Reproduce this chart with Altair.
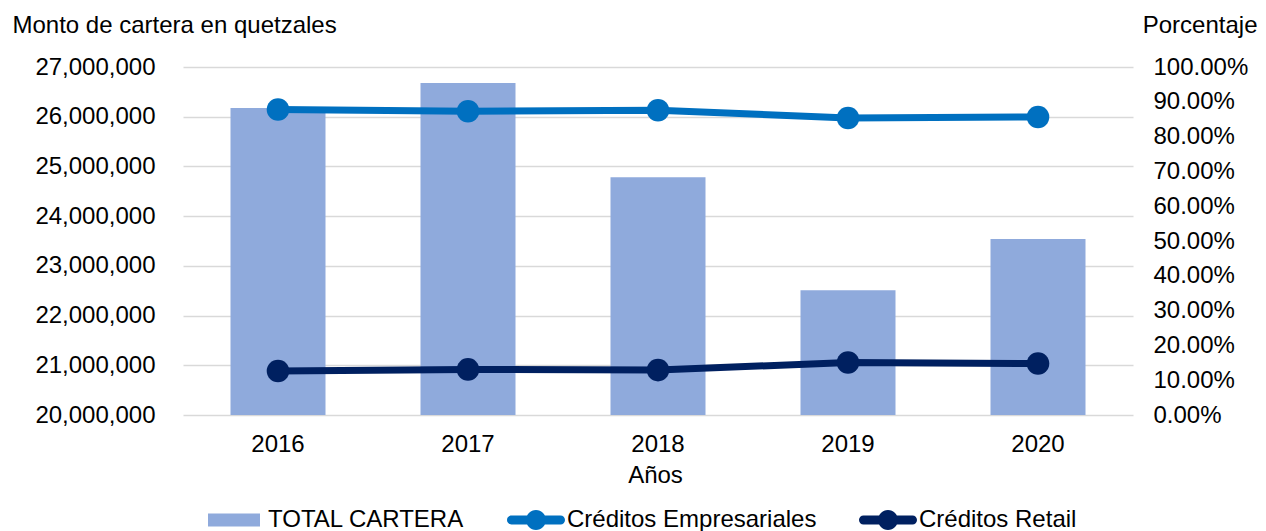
import altair as alt
import pandas as pd

# ---- data ----
years = ["2016", "2017", "2018", "2019", "2020"]
total_cartera = [26175000, 26680000, 24780000, 22510000, 23540000]
creditos_empresariales = [0.8777, 0.8728, 0.8757, 0.8536, 0.8565]
creditos_retail = [0.1263, 0.1310, 0.1290, 0.1510, 0.1480]

series = ["TOTAL CARTERA", "Créditos Empresariales", "Créditos Retail"]
colors = ["#8FAADC", "#0070C0", "#002060"]

left_ticks = [20000000, 21000000, 22000000, 23000000, 24000000, 25000000, 26000000, 27000000]
right_ticks = [0.0, 0.1, 0.2, 0.3, 0.4, 0.5, 0.6, 0.7, 0.8, 0.9, 1.0]

FONT = "Liberation Sans"

bars_df = pd.DataFrame({"year": years, "value": total_cartera, "serie": series[0]})
lines_df = pd.DataFrame({
    "year": years + years,
    "pct": creditos_empresariales + creditos_retail,
    "serie": [series[1]] * len(years) + [series[2]] * len(years),
})
legend_df = pd.DataFrame({"serie": series})

# legend symbol shapes (unit = sqrt(size)/2)
rect_path = "M-1,-0.65H4.2V0.65H-1Z"
line_circle_path = ("M-0.55,-0.45H4.35A0.45,0.45 0 0 1 4.35,0.45H-0.55A0.45,0.45 0 0 1 -0.55,-0.45Z"
                    "M0.9,0A1,1 0 1 1 2.9,0A1,1 0 1 1 0.9,0Z")
shapes = [rect_path, line_circle_path, line_circle_path]

color_scale = alt.Scale(domain=series, range=colors)
shape_scale = alt.Scale(domain=series, range=shapes)

lg = dict(orient="none", legendX=23, legendY=441, direction="horizontal", title=None,
          symbolSize=400, symbolStrokeWidth=0, symbolOpacity=1, labelFontSize=24,
          labelFont=FONT, labelColor="#000000", labelOffset=38, columnPadding=40,
          padding=0, labelLimit=0)


def color_enc():
    return alt.Color("serie:N", scale=color_scale, legend=alt.Legend(**lg))


x_enc = alt.X(
    "year:N", sort=years,
    scale=alt.Scale(paddingInner=0.5, paddingOuter=0.25),
    axis=alt.Axis(title="Años", labelAngle=0, labelFontSize=24, labelPadding=17,
                  ticks=False, domain=False, grid=False,
                  titleFontSize=24, titleFontWeight="normal", titleX=472, titleY=67,
                  titleBaseline="alphabetic", titleAlign="center"),
)

y_left = alt.Y(
    "value:Q",
    scale=alt.Scale(domain=[20000000, 27000000], zero=False, nice=False),
    axis=alt.Axis(values=left_ticks, format=",.0f", title="Monto de cartera en quetzales",
                  titleAngle=0, titleX=-171, titleY=-35, titleAlign="left",
                  titleBaseline="alphabetic", titleFontSize=24, titleFontWeight="normal",
                  labelFontSize=24, labelPadding=28, ticks=False, domain=False,
                  grid=True, gridColor="#D9D9D9", gridWidth=1.3),
)

y_right = alt.Y(
    "pct:Q",
    scale=alt.Scale(domain=[0, 1], nice=False),
    axis=alt.Axis(orient="right", values=right_ticks, format=".2%", title="Porcentaje",
                  titleAngle=0, titleX=124, titleY=-35, titleAlign="right",
                  titleBaseline="alphabetic", titleFontSize=24, titleFontWeight="normal",
                  labelFontSize=24, labelPadding=20, ticks=False, domain=False, grid=False),
)

bars = alt.Chart(bars_df).mark_bar(opacity=1, clip=True).encode(
    x=x_enc, y=y_left, color=color_enc(),
)

lines = alt.Chart(lines_df).mark_line(strokeWidth=7, strokeCap="round", opacity=1).encode(
    x=x_enc, y=y_right, color=color_enc(),
)

points = alt.Chart(lines_df).mark_circle(size=510, opacity=1).encode(
    x=x_enc, y=y_right, color=color_enc(),
)

legend_layer = alt.Chart(legend_df).transform_filter("false").mark_point(filled=True, opacity=1).encode(
    color=color_enc(),
    shape=alt.Shape("serie:N", scale=shape_scale, legend=alt.Legend(**lg)),
)

right = alt.layer(lines, points, legend_layer)

chart = (
    alt.layer(bars, right)
    .resolve_scale(y="independent")
    .properties(
        width=950, height=348,
        autosize=alt.AutoSizeParams(type="none"),
        padding={"left": 175, "top": 59, "right": 125, "bottom": 116},
    )
    .configure(font=FONT)
    .configure_view(stroke=None)
    .configure_axis(labelFont=FONT, titleFont=FONT, labelColor="#000000", titleColor="#000000")
    .configure_legend(labelFont=FONT)
)

chart.save("out.html", embed_options={"renderer": "svg", "actions": False})
